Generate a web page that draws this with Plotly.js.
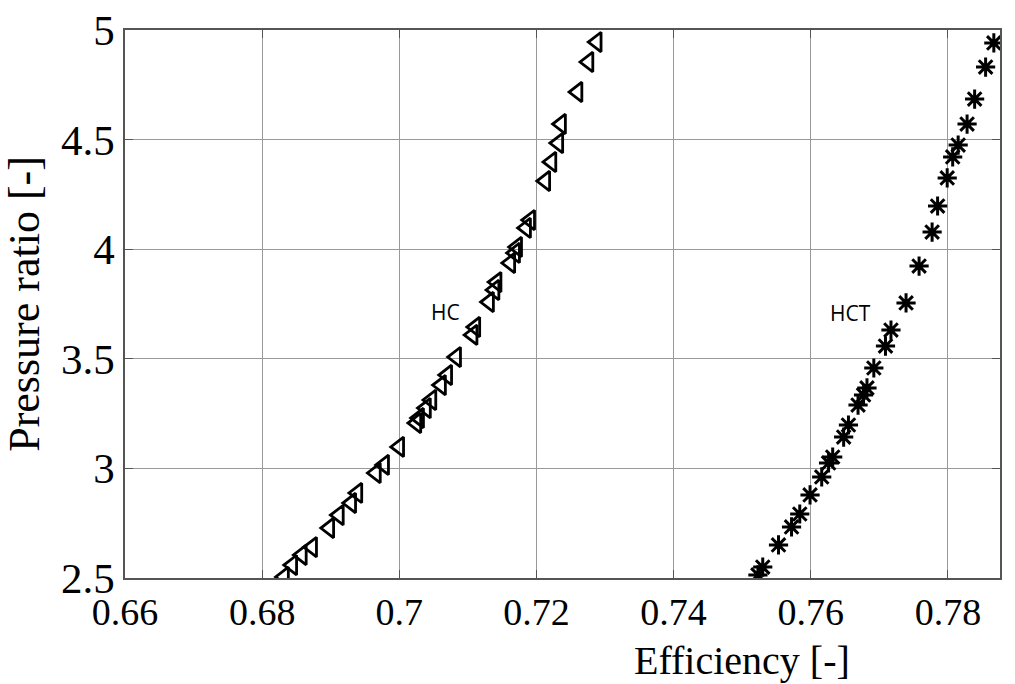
<!DOCTYPE html>
<html>
<head>
<meta charset="utf-8">
<script src="https://cdn.plot.ly/plotly-3.0.1.min.js"></script>
<style>
  html, body { margin: 0; padding: 0; background: #fff; }
  #myDiv { width: 1015px; height: 684px; }
</style>
</head>
<body>
<div id="myDiv"></div>
<script>
// HC compressor: efficiency vs pressure ratio
var hcEff = [0.6832, 0.6844, 0.6858, 0.6873, 0.6898, 0.6912, 0.6930, 0.6939, 0.6966, 0.6978,
             0.7000, 0.7025, 0.7029, 0.7039, 0.7047, 0.7061, 0.7070, 0.7083, 0.7107, 0.7111,
             0.7131, 0.7139, 0.7142, 0.7162, 0.7169, 0.7172, 0.7185, 0.7191, 0.7213, 0.7222,
             0.7232, 0.7236, 0.7260, 0.7276, 0.7288];
var hcPR  = [2.505, 2.559, 2.605, 2.641, 2.728, 2.787, 2.842, 2.888, 2.979, 3.016,
             3.098, 3.207, 3.230, 3.275, 3.312, 3.380, 3.426, 3.508, 3.609, 3.645,
             3.759, 3.814, 3.850, 3.937, 3.983, 4.010, 4.097, 4.133, 4.311, 4.398,
             4.484, 4.571, 4.717, 4.854, 4.945];

// HCT compressor
var hctEff = [0.7523, 0.7530, 0.7553, 0.7572, 0.7584, 0.7599, 0.7616, 0.7626, 0.7632, 0.7648,
              0.7655, 0.7669, 0.7677, 0.7682, 0.7692, 0.7709, 0.7717, 0.7739, 0.7758, 0.7777,
              0.7785, 0.7799, 0.7807, 0.7815, 0.7828, 0.7839, 0.7855, 0.7867];
var hctPR  = [2.514, 2.550, 2.651, 2.733, 2.792, 2.879, 2.961, 3.025, 3.052, 3.143,
              3.198, 3.289, 3.335, 3.367, 3.458, 3.558, 3.631, 3.755, 3.923, 4.078,
              4.197, 4.325, 4.421, 4.475, 4.571, 4.685, 4.831, 4.941];

var xTicks = [0.66, 0.68, 0.7, 0.72, 0.74, 0.76, 0.78];
var xTickText = ['0.66', '0.68', '0.7', '0.72', '0.74', '0.76', '0.78'];
var yTicks = [2.5, 3, 3.5, 4, 4.5, 5];
var yTickText = ['2.5', '3', '3.5', '4', '4.5', '5'];

var data = [{
  x: hcEff, y: hcPR,
  mode: 'markers', type: 'scatter', name: 'HC',
  marker: {symbol: 'triangle-left-open', size: 17, color: '#000', line: {width: 2.8, color: '#000'}}
}, {
  x: hctEff, y: hctPR,
  mode: 'markers', type: 'scatter', name: 'HCT',
  marker: {symbol: 'asterisk-open', size: 16, color: '#000', line: {width: 3, color: '#000'}}
}];

var serif = 'Liberation Serif, Times New Roman, serif';

var layout = {
  width: 1015, height: 684,
  margin: {l: 125, r: 15, t: 30, b: 106},
  paper_bgcolor: '#fff', plot_bgcolor: '#fff',
  showlegend: false,
  font: {family: serif, color: '#000'},
  xaxis: {
    range: [0.66, 0.7876],
    tickvals: xTicks, ticktext: xTickText,
    ticks: 'inside', ticklen: 8, tickcolor: '#555',
    showgrid: true, gridcolor: '#999', gridwidth: 1,
    showline: true, linecolor: '#555', linewidth: 1.5, mirror: 'ticks',
    zeroline: false,
    tickfont: {family: serif, size: 38, color: '#000'}
  },
  yaxis: {
    range: [2.5, 5],
    tickvals: yTicks, ticktext: yTickText,
    ticks: 'inside', ticklen: 8, tickcolor: '#555',
    showgrid: true, gridcolor: '#999', gridwidth: 1,
    showline: true, linecolor: '#555', linewidth: 1.5, mirror: 'ticks',
    zeroline: false,
    tickfont: {family: serif, size: 43, color: '#000'},
    title: {text: 'Pressure ratio [-]', font: {family: serif, size: 44, color: '#000'}, standoff: 8}
  },
  annotations: [
    {x: 0.705, y: -0.15, xref: 'paper', yref: 'paper', showarrow: false,
     xanchor: 'center', yanchor: 'middle',
     text: 'Efficiency [-]', font: {family: serif, size: 40, color: '#000'}},
    {x: 0.7067, y: 3.713, xref: 'x', yref: 'y', showarrow: false,
     text: 'HC', font: {family: 'Open Sans, sans-serif', size: 21, color: '#000'}},
    {x: 0.7658, y: 3.709, xref: 'x', yref: 'y', showarrow: false,
     text: 'HCT', font: {family: 'Open Sans, sans-serif', size: 21, color: '#000'}}
  ]
};

Plotly.newPlot('myDiv', data, layout, {displayModeBar: false});
</script>
</body>
</html>
